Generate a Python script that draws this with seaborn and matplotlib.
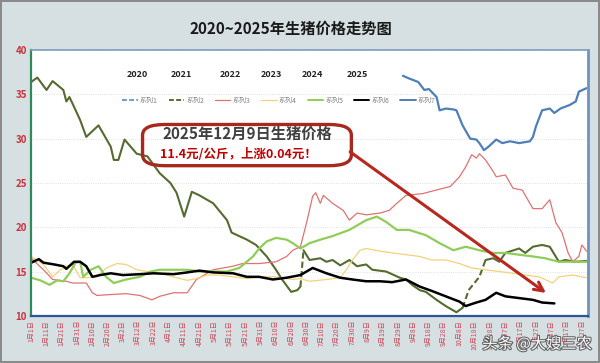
import numpy as np
import pandas as pd
import seaborn as sns
import matplotlib.pyplot as plt
from matplotlib.lines import Line2D
from matplotlib.patches import FancyBboxPatch
import matplotlib.patheffects as pe

# day-of-year keyframes (0 = 1月1日) and prices
s2_day = [0, 4, 10, 14, 21, 23, 25, 28, 32, 36, 44, 52, 54, 57, 61, 69, 76, 84, 91, 95,
          100, 105, 110, 119, 128, 131, 141, 147, 154, 160, 164, 170, 174, 176, 178, 182,
          189, 193, 197, 202, 208, 213, 219, 223, 232, 241, 245, 249, 254, 258, 265, 271,
          278, 282, 286, 293, 297, 302, 306, 310, 319, 323, 328, 334, 339, 345, 349, 356, 363]
s2_val = [36.4, 36.9, 35.5, 36.5, 35.5, 34.2, 34.7, 33.6, 32.1, 30.2, 31.5, 29.1, 27.6,
          27.6, 29.9, 28.3, 28.0, 26.1, 25.0, 23.9, 21.2, 24.0, 23.6, 22.7, 20.8, 19.4,
          18.6, 18.0, 16.7, 15.2, 14.1, 12.7, 12.9, 13.3, 17.4, 16.3, 16.5, 16.1, 16.3,
          15.7, 16.3, 15.6, 15.8, 15.2, 15.0, 14.3, 14.1, 13.5, 12.9, 12.7, 11.8, 11.1,
          10.4, 10.9, 12.9, 14.4, 16.3, 16.5, 16.1, 17.1, 17.6, 17.1, 17.8, 18.0, 17.8,
          16.1, 16.3, 16.1, 16.2]
# which stretches of 系列2 are drawn solid / dashed (index ranges into the arrays)
s2_solid = [(0, 34), (34, 54), (56, 69)]
s2_dashed = [(33, 35), (53, 57)]

s3_day = [0, 8, 14, 23, 27, 36, 40, 43, 52, 62, 71, 79, 84, 93, 102, 108, 111, 119, 132,
          138, 149, 160, 167, 171, 176, 180, 184, 186, 189, 191, 197, 204, 208, 213, 219,
          228, 234, 239, 245, 256, 267, 274, 280, 284, 288, 291, 293, 297, 302, 304, 310,
          315, 321, 328, 334, 339, 343, 347, 351, 354, 358, 360, 363]
s3_val = [16.5, 15.2, 14.1, 13.9, 13.7, 13.7, 12.6, 12.3, 12.4, 12.5, 12.3, 11.8, 12.2,
          12.6, 12.6, 14.1, 14.4, 15.2, 15.6, 15.9, 15.9, 16.1, 16.7, 17.4, 17.8, 20.5,
          23.5, 23.9, 22.7, 23.6, 22.7, 21.9, 20.8, 21.6, 21.4, 21.6, 21.9, 22.7, 23.6,
          23.8, 24.3, 24.6, 25.7, 26.8, 28.2, 27.8, 28.3, 27.6, 26.3, 25.7, 25.9, 24.4,
          24.2, 22.1, 22.1, 23.1, 20.5, 19.4, 17.1, 16.1, 16.7, 18.0, 17.3]

s4_day = [0, 8, 14, 19, 23, 27, 32, 36, 43, 49, 56, 62, 69, 76, 84, 93, 102, 108, 115,
          123, 132, 141, 149, 160, 171, 176, 182, 193, 202, 206, 210, 215, 219, 228, 236,
          245, 254, 262, 271, 280, 288, 297, 306, 315, 323, 332, 341, 345, 354, 363]
s4_val = [16.7, 15.8, 14.4, 15.2, 15.6, 15.8, 14.3, 14.3, 14.4, 15.4, 15.9, 15.8, 15.2,
          15.0, 14.8, 14.4, 14.0, 14.2, 14.6, 14.6, 14.4, 14.2, 14.4, 14.4, 14.1, 14.2,
          13.9, 14.1, 14.3, 15.2, 16.3, 17.4, 17.6, 17.3, 17.1, 16.9, 16.7, 16.3, 16.3,
          15.9, 15.4, 15.2, 15.0, 14.8, 14.6, 14.4, 13.7, 14.4, 14.6, 14.3]

s5_day = [0, 6, 12, 17, 21, 25, 29, 32, 34, 39, 44, 49, 54, 62, 71, 78, 84, 93, 102,
          110, 119, 128, 136, 145, 149, 154, 160, 167, 171, 176, 182, 189, 197, 208, 219,
          226, 232, 239, 247, 258, 267, 276, 284, 293, 302, 310, 319, 328, 336, 345, 354, 363]
s5_val = [14.3, 14.0, 13.5, 14.0, 13.9, 14.8, 16.0, 16.1, 14.4, 15.2, 15.6, 14.4, 13.7,
          14.1, 14.4, 15.0, 15.2, 15.2, 15.2, 15.0, 15.0, 15.0, 15.4, 16.7, 17.6, 18.4,
          18.8, 18.6, 18.2, 17.6, 18.2, 18.6, 19.0, 19.7, 20.8, 21.2, 20.6, 19.7, 19.7,
          19.1, 18.2, 17.4, 17.8, 17.4, 17.1, 17.1, 16.9, 16.7, 16.5, 16.1, 16.1, 16.1]

s6_day = [0, 5, 8, 15, 21, 23, 28, 32, 36, 40, 45, 52, 60, 71, 80, 93, 102, 110, 119,
          132, 141, 149, 158, 167, 176, 184, 193, 202, 210, 219, 228, 236, 245, 254, 262,
          271, 280, 284, 291, 297, 304, 310, 319, 328, 334, 342]
s6_val = [16.0, 16.4, 16.0, 15.8, 15.6, 15.3, 16.1, 16.1, 15.6, 14.4, 14.6, 14.8, 14.6,
          14.7, 14.8, 14.7, 14.9, 15.1, 14.9, 14.8, 14.4, 14.4, 14.1, 14.3, 14.6, 15.4,
          14.8, 14.3, 14.1, 13.9, 13.9, 13.8, 14.1, 13.3, 12.8, 12.2, 11.6, 11.1, 11.5,
          11.8, 12.6, 12.2, 12.0, 11.8, 11.5, 11.4]

s7_day = [243, 247, 253, 257, 260, 265, 267, 271, 276, 278, 282, 287, 291, 293, 296,
          299, 304, 308, 313, 319, 326, 328, 330, 334, 339, 342, 346, 352, 356, 358, 363]
s7_val = [37.1, 36.8, 36.4, 35.5, 35.6, 34.7, 33.2, 33.4, 33.3, 33.2, 31.5, 30.0, 29.9,
          29.5, 28.7, 29.1, 29.9, 29.5, 29.7, 29.5, 29.7, 30.2, 31.4, 33.2, 33.4, 32.9,
          33.4, 33.8, 34.2, 35.3, 35.7]

series_names = ['系列1', '系列2', '系列3', '系列4', '系列5', '系列6', '系列7']
year_labels = ['2020', '2021', '2022', '2023', '2024', '2025']
y_ticks = [10, 15, 20, 25, 30, 35, 40]
x_tick_days = list(range(0, 361, 10))
x_tick_labels = ['1月1日', '1月11日', '1月21日', '1月31日', '2月10日', '2月20日', '3月2日',
                 '3月12日', '3月22日', '4月1日', '4月11日', '4月21日', '5月1日', '5月11日',
                 '5月21日', '5月31日', '6月10日', '6月20日', '6月30日', '7月10日', '7月20日',
                 '7月30日', '8月9日', '8月19日', '8月29日', '9月8日', '9月18日', '9月28日',
                 '10月8日', '10月18日', '10月28日', '11月7日', '11月17日', '11月27日',
                 '12月7日', '12月17日', '12月27日']

colors = {'系列1': '#6a9bd3', '系列2': '#556b2f', '系列3': '#e07272', '系列4': '#f4d27a',
          '系列5': '#8fcd58', '系列6': '#000000', '系列7': '#4f7fb8'}
widths = {'系列2': 1.5, '系列3': 0.9, '系列4': 0.9, '系列5': 1.6, '系列6': 1.8, '系列7': 1.6}

sns.set_style('white')
plt.rcParams['font.family'] = ['Noto Sans CJK SC', 'DejaVu Sans']

fig = plt.figure(figsize=(6, 3.63), dpi=100)
fig.patch.set_facecolor('#d6e0e3')
fig.patch.set_edgecolor('#8a8a8a')
fig.patch.set_linewidth(1.5)
ax = fig.add_axes([0.052, 0.13, 0.928, 0.732])
ax.set_facecolor('white')


def draw(d, v, name, ls='-'):
    df = pd.DataFrame({'day': d, 'price': v})
    sns.lineplot(data=df, x='day', y='price', ax=ax, color=colors[name], linestyle=ls,
                 linewidth=widths[name], estimator=None, sort=False, legend=False)


# 系列2 split into solid and dashed stretches
for a, b in s2_solid:
    draw(s2_day[a:b], s2_val[a:b], '系列2')
for a, b in s2_dashed:
    draw(s2_day[a:b], s2_val[a:b], '系列2', ls=(0, (3, 1.5)))

draw(s3_day, s3_val, '系列3')
draw(s4_day, s4_val, '系列4')
draw(s5_day, s5_val, '系列5')
draw(s7_day, s7_val, '系列7')
draw(s6_day, s6_val, '系列6')

ax.set_xlim(0, 364)
ax.set_ylim(10, 40)
ax.set_yticks(y_ticks)
ax.set_yticklabels([str(t) for t in y_ticks], color='#c8323c', fontsize=7, fontweight='bold')
ax.set_xticks(x_tick_days)
ax.set_xticklabels(x_tick_labels, rotation=90, color='#d04858', fontsize=5, va='top')
ax.tick_params(axis='both', length=0, pad=3)
ax.set_xlabel('')
ax.set_ylabel('')
ax.grid(True, axis='y', color='#d8d8d8', linestyle=':', linewidth=0.6)

for side, c, w in [('left', '#2e8b57', 1.6), ('bottom', '#2f5597', 1.6),
                   ('right', '#6f94bd', 2.0), ('top', '#7f9cbc', 1.2)]:
    ax.spines[side].set_visible(True)
    ax.spines[side].set_color(c)
    ax.spines[side].set_linewidth(w)

fig.text(0.485, 0.922, '2020~2025年生猪价格走势图', ha='center', va='center',
         fontsize=11, fontweight='bold', color='#1a1a1a')

# legend row and year labels above it
handles = []
for name in series_names:
    ls = (0, (2.5, 1.2)) if name in ('系列1', '系列2') else '-'
    handles.append(Line2D([0], [0], color=colors[name], linestyle=ls,
                          linewidth=min(widths.get(name, 1.4), 1.4)))
ax.legend(handles, series_names, ncol=7, loc='center', bbox_to_anchor=(0.445, 0.81),
          frameon=False, fontsize=5, labelcolor='#808080', handlelength=2.2,
          handletextpad=0.3, columnspacing=1.6)

year_x = [0.19, 0.27, 0.358, 0.432, 0.505, 0.585]
for yx, yl in zip(year_x, year_labels):
    ax.text(yx, 0.91, yl, transform=ax.transAxes, ha='center', va='center',
            fontsize=6.5, fontweight='bold', color='#222222')

# callout box
box = FancyBboxPatch((0.2, 0.565), 0.375, 0.155, transform=ax.transAxes,
                     boxstyle='round,pad=0,rounding_size=0.04', facecolor='none',
                     edgecolor='#a8281e', linewidth=2.4, zorder=5)
ax.add_patch(box)
ax.text(0.388, 0.683, '2025年12月9日生猪价格', transform=ax.transAxes, ha='center',
        va='center', fontsize=11, fontweight='bold', color='#404040', zorder=6)
ax.text(0.373, 0.608, '11.4元/公斤，上涨0.04元！', transform=ax.transAxes, ha='center',
        va='center', fontsize=9, fontweight='bold', color='#c00000', zorder=6)

ax.annotate('', xy=(338, 12.4), xytext=(207, 28.7),
            arrowprops=dict(arrowstyle='->', color='#b8281e', lw=2.2, mutation_scale=16),
            zorder=7)

fig.text(0.895, 0.052, '头条 @大嫂三农', ha='center', va='center', fontsize=11,
         color='white', path_effects=[pe.withStroke(linewidth=1.5, foreground='#606060')])

plt.savefig('out.png', dpi=100, facecolor=fig.get_facecolor(), edgecolor=fig.get_edgecolor())
